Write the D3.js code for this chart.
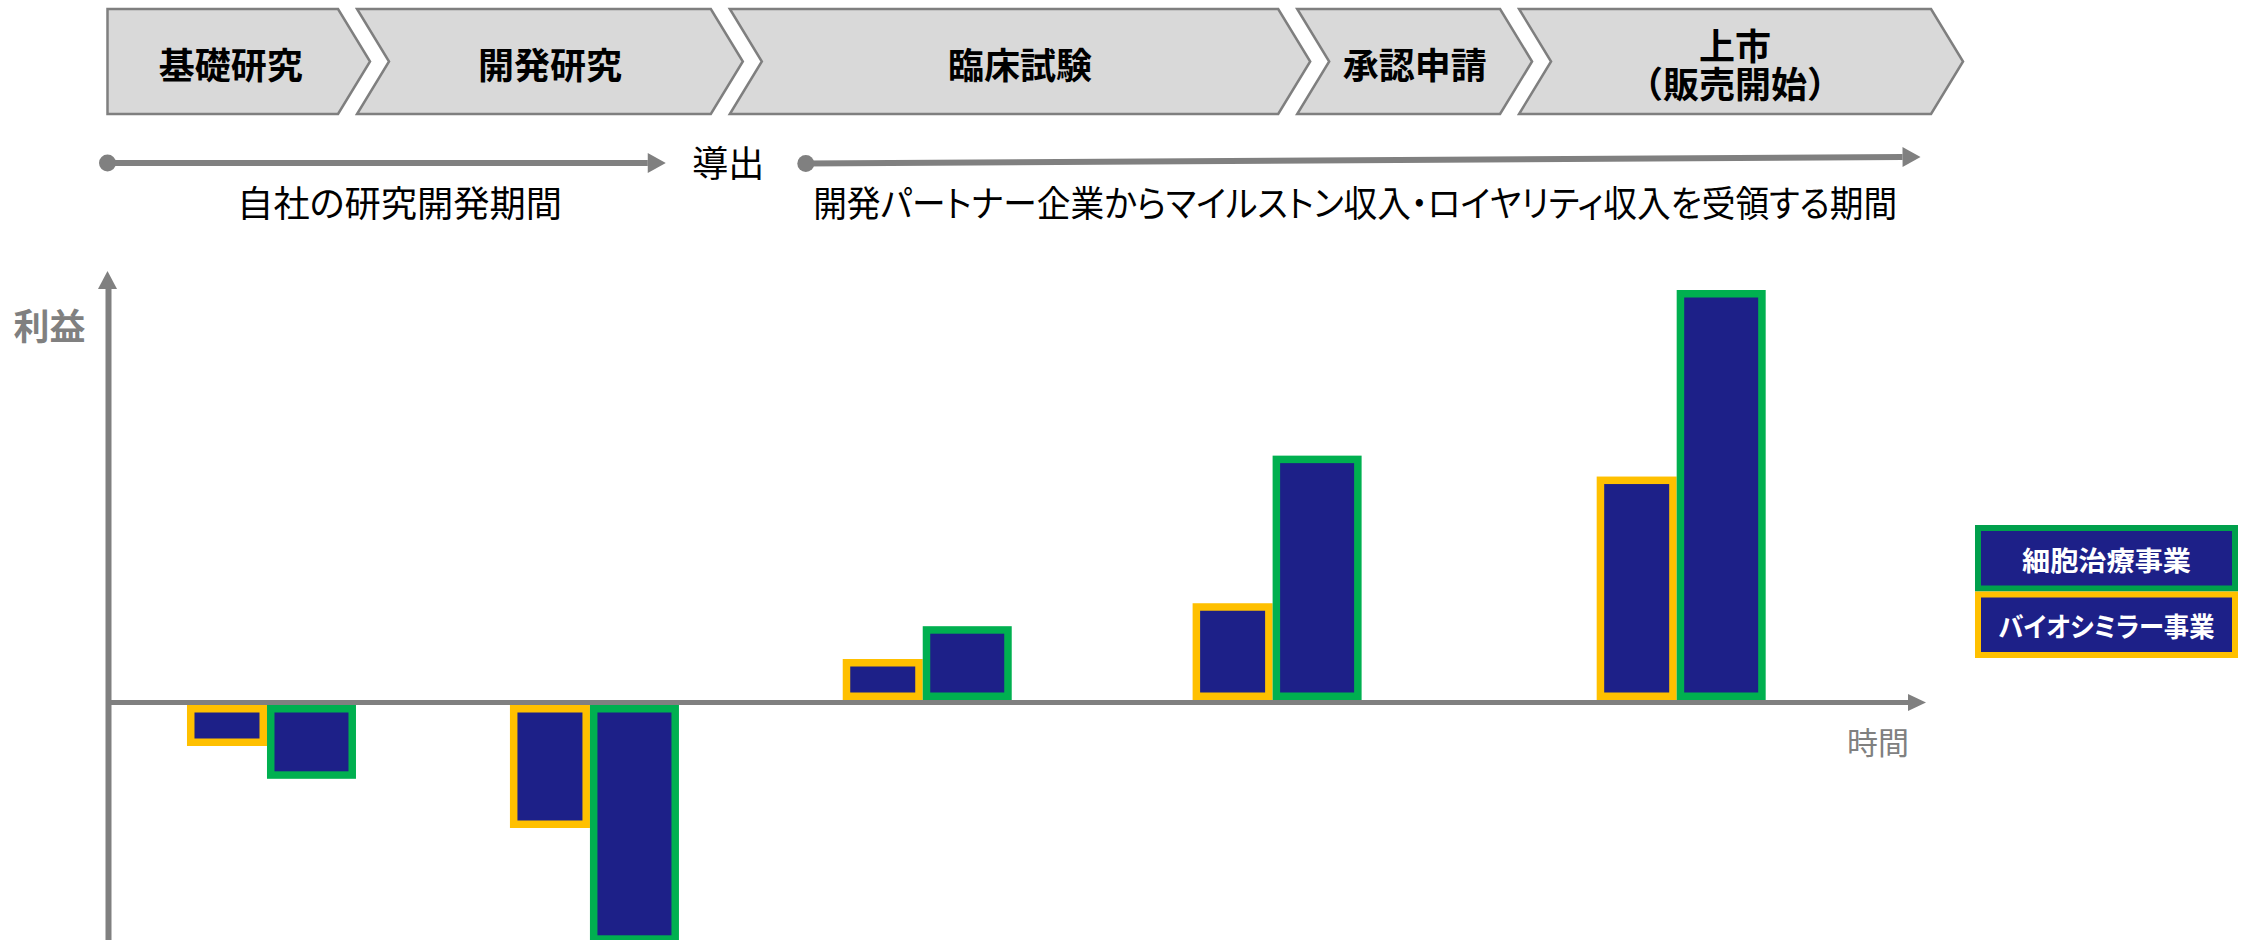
<!DOCTYPE html>
<html><head><meta charset="utf-8">
<script src="https://cdn.jsdelivr.net/npm/d3@7"></script>
<style>
html,body{margin:0;padding:0;background:#fff;}
svg{display:block;font-family:"Noto Sans CJK JP","Noto Sans",sans-serif;}
</style></head><body>
<svg id="chart" width="2248" height="940"></svg>
<script>
// ---- data ----
const stageLabels = [["基礎研究"], ["開発研究"], ["臨床試験"], ["承認申請"], ["上市", "（販売開始）"]];
const stageBounds = [0, 13.2, 33.7, 64.9, 77.1, 100.8];        // time units
const periodLabels = ["自社の研究開発期間", "開発パートナー企業からマイルストン収入・ロイヤリティ収入を受領する期間"];
const periodStart = [0, 38.4];
const periodEnd = [30.7, 99.7];
const handoverLabel = "導出";
const groupTimes = [8.77, 26.53, 44.83, 64.07, 86.29];          // time of each bar pair
const seriesNames = ["細胞治療事業", "バイオシミラー事業"];
const cellTherapy = [-18, -58, 18, 59.6, 100];                 // relative profit
const biosimilar = [-10, -30, 10, 23.6, 54.5];
const yLabel = "利益";
const xLabel = "時間";

// ---- layout / style ----
const W = 2248, H = 940;
const GRAY = "#808080", NAVY = "#1D2088", YELLOW = "#FFC000", GREEN = "#00B050", GREEN_LEG = "#00A04C";
const svg = d3.select("#chart");

const x = d3.scaleLinear().domain([0, 100]).range([107.5, 1926]);
const y = d3.scaleLinear().domain([0, 100]).range([702.5, 292.5]);

// ---- stage chevrons ----
const chevTop = 9, chevBot = 114, chevMid = (chevTop + chevBot) / 2, depth = 32, gap = 9.5;
const chev = svg.append("g");
stageLabels.forEach((lines, i) => {
  const xl = x(stageBounds[i]) + (i > 0 ? gap : 0);
  const xr = x(stageBounds[i + 1]) - gap;
  const notch = i > 0 ? xl + depth : xl;
  const pts = [[xl, chevTop], [xr, chevTop], [xr + depth, chevMid], [xr, chevBot], [xl, chevBot], [notch, chevMid]];
  chev.append("path")
    .attr("d", d3.line()(pts) + "Z")
    .attr("fill", "#D9D9D9").attr("stroke", "#7F7F7F").attr("stroke-width", 2.5)
    .attr("stroke-linejoin", "miter");
  const cx = (xl + notch + xr + xr + depth) / 4 + (lines.length > 1 ? -6 : 0);
  const lh = 38;
  const txt = chev.append("text")
    .attr("text-anchor", "middle").attr("dominant-baseline", "central")
    .attr("font-size", 36).attr("font-weight", 700).attr("fill", "#000");
  lines.forEach((t, j) => {
    txt.append("tspan")
      .attr("x", cx)
      .attr("y", chevMid + (j - (lines.length - 1) / 2) * lh + 1)
      .text(t);
  });
});

// ---- period arrows ----
function arrow(g, x1, y1, x2, y2) {
  const a = Math.atan2(y2 - y1, x2 - x1), L = 18, hw = 10;
  const bx = x2 - L * Math.cos(a), by = y2 - L * Math.sin(a);
  const px = -Math.sin(a) * hw, py = Math.cos(a) * hw;
  g.append("line").attr("x1", x1).attr("y1", y1).attr("x2", bx).attr("y2", by)
    .attr("stroke", GRAY).attr("stroke-width", 6);
  g.append("circle").attr("cx", x1).attr("cy", y1).attr("r", 8.5).attr("fill", GRAY);
  g.append("path").attr("d", d3.line()([[x2, y2], [bx + px, by + py], [bx - px, by - py]]) + "Z")
    .attr("fill", GRAY);
}
const per = svg.append("g");
const periodY1 = [163, 163.5], periodY2 = [163, 157];
const labelDx = [13, -8], labelWidth = [325, 1084];
periodLabels.forEach((lab, i) => {
  arrow(per, x(periodStart[i]), periodY1[i], x(periodEnd[i]), periodY2[i]);
  per.append("text")
    .attr("x", (x(periodStart[i]) + x(periodEnd[i])) / 2 + labelDx[i])
    .attr("y", 201)
    .attr("text-anchor", "middle").attr("dominant-baseline", "central")
    .attr("font-size", 36).attr("font-weight", 400).attr("fill", "#000")
    .attr("textLength", labelWidth[i]).attr("lengthAdjust", "spacingAndGlyphs")
    .style("font-feature-settings", "'palt'")
    .text(lab);
});
per.append("text")
  .attr("x", x(stageBounds[2]) + 8).attr("y", 161)
  .attr("text-anchor", "middle").attr("dominant-baseline", "central")
  .attr("font-size", 36).attr("font-weight", 400).attr("fill", "#000")
  .text(handoverLabel);

// ---- axes ----
const xAxisScale = d3.scaleLinear().domain([0, 100]).range([x(0), x(100) - 17]);
const gx = svg.append("g").attr("transform", `translate(0,${y(0) - 0.5})`)
  .call(d3.axisBottom(xAxisScale).tickValues([]).tickSizeOuter(0));
gx.select(".domain").attr("stroke", GRAY).attr("stroke-width", 5);
svg.append("path")
  .attr("d", d3.line()([[x(100), y(0)], [x(100) - 18, y(0) - 8.5], [x(100) - 18, y(0) + 8.5]]) + "Z")
  .attr("fill", GRAY);

const yTop = 271;
const yAxisScale = d3.scaleLinear().domain([y.invert(H + 5), y.invert(yTop + 16)]).range([H + 5, yTop + 16]);
const gy = svg.append("g").attr("transform", `translate(${x(0) + 0.5},0)`)
  .call(d3.axisLeft(yAxisScale).tickValues([]).tickSizeOuter(0));
gy.select(".domain").attr("stroke", GRAY).attr("stroke-width", 6);
svg.append("path")
  .attr("d", d3.line()([[x(0), yTop], [x(0) - 9.5, yTop + 18], [x(0) + 9.5, yTop + 18]]) + "Z")
  .attr("fill", GRAY);

svg.append("text").attr("x", 49.5).attr("y", 324)
  .attr("text-anchor", "middle").attr("dominant-baseline", "central")
  .attr("font-size", 36).attr("font-weight", 700).attr("fill", GRAY).text(yLabel);
svg.append("text").attr("x", x(100) - 48).attr("y", 740)
  .attr("text-anchor", "middle").attr("dominant-baseline", "central")
  .attr("font-size", 31).attr("font-weight", 400).attr("fill", GRAY).text(xLabel);

// ---- bars ----
const SW = 7.5, wYellow = 80, wGreen = 89, axisHalf = 2.5;
function barBox(v, x0, w) {
  const top = v >= 0 ? y(v) - axisHalf : y(0) + axisHalf;
  const bot = v >= 0 ? y(0) - axisHalf : y(v) + axisHalf;
  return { x: x0 + SW / 2, y: top + SW / 2, w: w - SW, h: bot - top - SW };
}
const bars = [];
groupTimes.forEach((t, i) => {
  const xc = x(t);
  bars.push({ ...barBox(biosimilar[i], xc - wYellow, wYellow), c: YELLOW });
  bars.push({ ...barBox(cellTherapy[i], xc, wGreen), c: GREEN });
});
svg.append("g").selectAll("rect").data(bars).join("rect")
  .attr("x", d => d.x).attr("y", d => d.y).attr("width", d => d.w).attr("height", d => d.h)
  .attr("fill", NAVY).attr("stroke", d => d.c).attr("stroke-width", SW);

// ---- legend ----
const legX = 1975, legW = 263, legY = 525, legH = 66.5, LSW = 6;
const legColors = [GREEN_LEG, YELLOW];
const legTextW = [169, 216];
const leg = svg.append("g");
seriesNames.forEach((name, i) => {
  const y0 = legY + i * legH;
  leg.append("rect").attr("x", legX + LSW / 2).attr("y", y0 + LSW / 2)
    .attr("width", legW - LSW).attr("height", legH - LSW)
    .attr("fill", NAVY).attr("stroke", legColors[i]).attr("stroke-width", LSW);
  leg.append("text").attr("x", legX + legW / 2).attr("y", y0 + legH / 2 + 1)
    .attr("text-anchor", "middle").attr("dominant-baseline", "central")
    .attr("font-size", 27).attr("font-weight", 700).attr("fill", "#fff")
    .attr("textLength", legTextW[i]).attr("lengthAdjust", "spacingAndGlyphs")
    .style("font-feature-settings", "'palt'")
    .text(name);
});
</script>
</body></html>
